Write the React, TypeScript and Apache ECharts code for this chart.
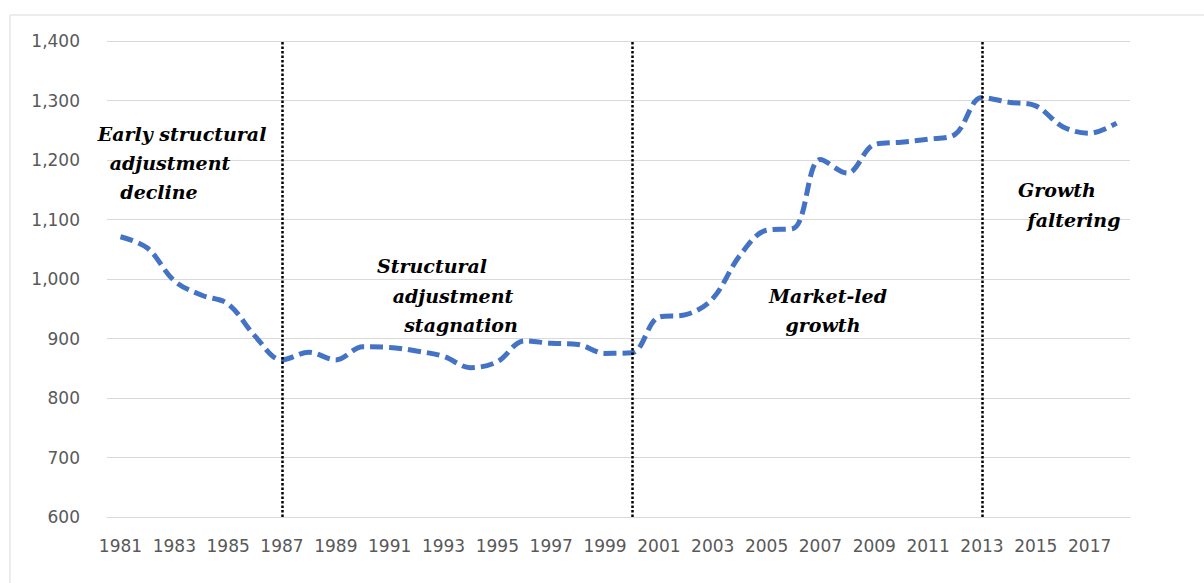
import React, { useEffect, useRef } from "react";
import * as echarts from "echarts";

const years: string[] = [
  "1981","1982","1983","1984","1985","1986","1987","1988","1989","1990",
  "1991","1992","1993","1994","1995","1996","1997","1998","1999","2000",
  "2001","2002","2003","2004","2005","2006","2007","2008","2009","2010",
  "2011","2012","2013","2014","2015","2016","2017","2018",
];

const values: number[] = [
  1071, 1052, 997, 973, 958, 904, 864, 877, 864, 886,
  885, 879, 870, 851, 861, 896, 892, 890, 875, 876,
  936, 940, 967, 1039, 1082, 1085, 1201, 1178, 1226, 1230,
  1235, 1243, 1305, 1297, 1291, 1256, 1245, 1262,
];

const phaseBreaks: string[] = ["1987", "2000", "2013"];

const yMin = 600;
const yMax = 1400;
const yStep = 100;

const annotations: { text: string; x: number; y: number }[] = [
  { text: "Early structural", x: 182, y: 134 },
  { text: "adjustment", x: 170, y: 163 },
  { text: "decline", x: 159, y: 192 },
  { text: "Structural", x: 432, y: 266 },
  { text: "adjustment", x: 453, y: 296 },
  { text: "stagnation", x: 461, y: 325 },
  { text: "Market-led", x: 828, y: 296 },
  { text: "growth", x: 823, y: 325 },
  { text: "Growth", x: 1057, y: 190 },
  { text: "faltering", x: 1074, y: 220 },
];

export default function App() {
  const ref = useRef<HTMLDivElement>(null);

  useEffect(() => {
    if (!ref.current) return;
    const chart = echarts.init(ref.current, undefined, { renderer: "svg" });
    const labelStyle = {
      color: "#595959",
      fontFamily: "DejaVu Sans",
      fontSize: 17,
    };
    chart.setOption({
      animation: false,
      backgroundColor: "#ffffff",
      grid: { left: 107, right: 74, top: 41, bottom: 66, containLabel: false },
      xAxis: {
        type: "category",
        data: years,
        boundaryGap: true,
        axisLine: { show: true, lineStyle: { color: "#d9d9d9", width: 1 } },
        axisTick: { show: false },
        axisLabel: { ...labelStyle, interval: 1, margin: 20 },
        splitLine: { show: false },
      },
      yAxis: {
        type: "value",
        min: yMin,
        max: yMax,
        interval: yStep,
        axisLine: { show: false },
        axisTick: { show: false },
        axisLabel: {
          ...labelStyle,
          margin: 27,
          formatter: (v: number) => v.toLocaleString("en-US"),
        },
        splitLine: { show: true, lineStyle: { color: "#d9d9d9", width: 1 } },
      },
      series: [
        {
          type: "line",
          data: values,
          smooth: 0.35,
          showSymbol: false,
          symbol: "none",
          lineStyle: { color: "#4472C4", width: 5, type: [13, 6], cap: "butt" },
          markLine: {
            silent: true,
            symbol: ["none", "none"],
            label: { show: false },
            lineStyle: { color: "#000000", width: 2.5, type: [2.5, 2] },
            data: phaseBreaks.map((y) => ({ xAxis: y })),
          },
          z: 3,
        },
      ],
      graphic: [
        {
          type: "rect",
          shape: { x: 10, y: 15, width: 1210, height: 600 },
          style: { fill: "none", stroke: "#d9d9d9", lineWidth: 1 },
          silent: true,
          z: -1,
        },
        ...annotations.map((a) => ({
          type: "text",
          x: a.x,
          y: a.y,
          style: {
            text: a.text,
            fill: "#000000",
            font: "italic bold 19px 'DejaVu Serif'",
            textAlign: "center",
            textVerticalAlign: "middle",
          },
          silent: true,
          z: 10,
        })),
      ],
    });
    return () => chart.dispose();
  }, []);

  return (
    <div
      ref={ref}
      style={{ position: "fixed", left: 0, top: 0, width: 1204, height: 583 }}
    />
  );
}
